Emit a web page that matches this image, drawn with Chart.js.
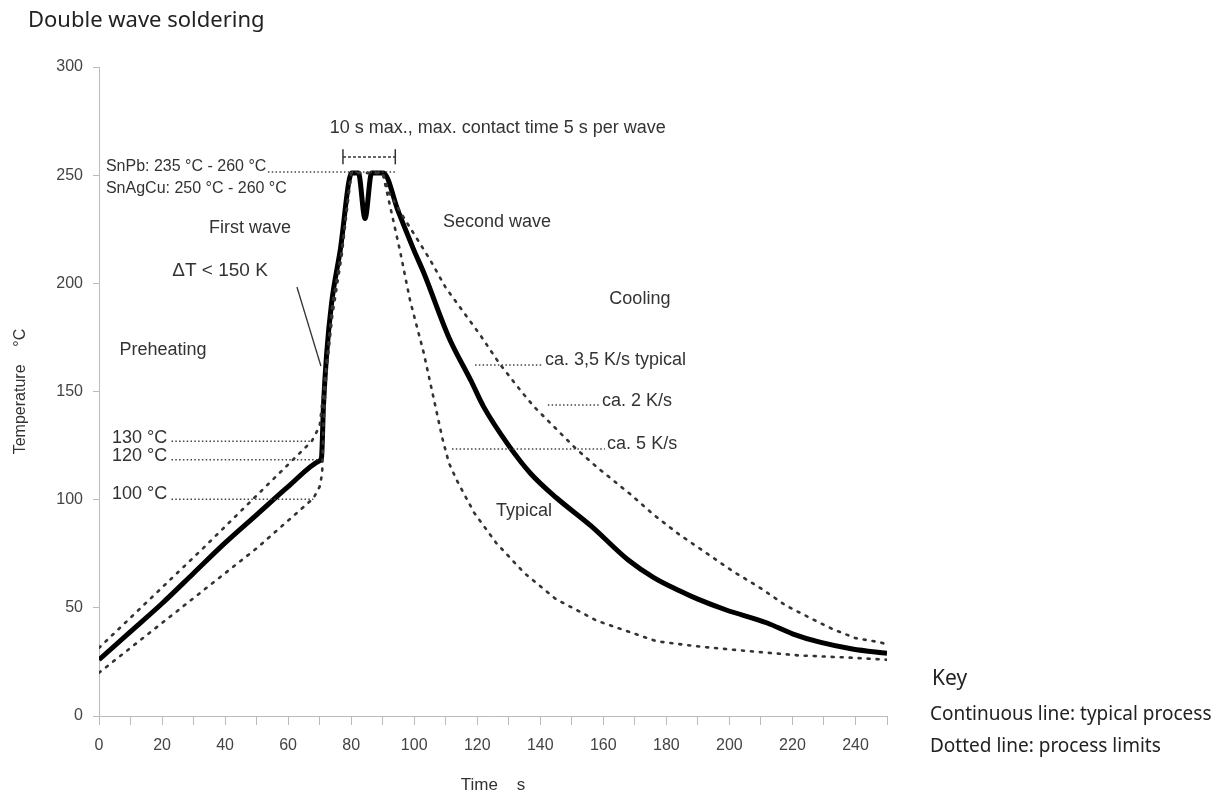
<!DOCTYPE html>
<html>
<head>
<meta charset="utf-8">
<script src="https://cdn.jsdelivr.net/npm/chart.js@4.4.1/dist/chart.umd.min.js"></script>
<style>
  body { margin: 0; background: #fff; }
  #wrap { position: relative; width: 1217px; height: 796px; }
  .note { position: absolute; font-family: "Noto Sans", "Open Sans", sans-serif; color: #222; white-space: nowrap; }
</style>
</head>
<body>
<div id="wrap">
  <canvas id="chart" width="1217" height="796"></canvas>
  <div class="note" style="left:28px; top:3px; font-size:22px;">Double wave soldering</div>
  <div class="note" style="left:932px; top:663px; font-size:21px;">Key</div>
  <div class="note" style="left:930px; top:700px; font-size:19px;">Continuous line: typical process</div>
  <div class="note" style="left:930px; top:732px; font-size:19px;">Dotted line: process limits</div>
</div>
<script>
// typical process (thick line)
const typicalTime = [0, 10, 20, 30, 40, 50, 60, 70, 70.6, 71.2, 72.2, 73.8, 76.5, 80.2, 82.3, 84.4, 86.5, 90.2, 95, 100, 103, 111, 118, 122, 130, 137, 145, 156, 168, 176, 184, 190, 199, 212, 220, 229, 239, 250];
const typicalTemp = [26, 39, 52, 66, 80, 93, 106, 118, 119.5, 143, 167, 191, 215, 251, 251, 230, 251, 251, 233, 215, 205, 175, 155, 143, 125, 112, 101, 88, 72, 64, 58, 54, 49, 43, 38, 34, 31, 29];

// upper process limit (ca. 2 K/s cooling)
const upperTime = [0, 33, 67.5, 70, 71, 72.5, 74, 77, 80, 90, 92, 96, 99, 105, 110, 116, 121, 127, 134, 138, 151, 158, 169, 176, 184, 192, 201, 210, 218, 226, 233, 240, 248, 250];
const upperTemp = [31.5, 77.5, 127, 134, 147, 168, 190, 215, 251, 251, 242, 232, 225, 211, 198, 186, 176, 163, 150, 143, 124, 115, 102, 93, 84, 76, 67, 59, 51, 45, 40, 36, 34, 33];

// lower process limit (ca. 5 K/s cooling)
const lowerTime = [0, 50, 68, 70, 70.8, 71.2, 72.2, 74, 77, 80, 90, 92.3, 95.5, 98.7, 103, 106, 109, 111, 113.5, 119, 126, 135, 145, 158, 170, 177, 191, 206, 222, 238, 250];
const lowerTemp = [20, 77.5, 100.6, 106, 112, 135, 160, 185, 213, 251, 251, 236, 215, 192, 168, 148, 128, 117, 109, 94, 80, 66, 54, 44, 38, 34.5, 32, 30, 28, 27, 26];

const xTicksEvery = 10;
const xLabelsEvery = 20;
const yTicksEvery = 50;

// text notes inside the plot, in data units
const notes = [
  { t: 2.2, T: 254, text: 'SnPb: 235 °C - 260 °C', align: 'left', size: 16 },
  { t: 2.2, T: 243.6, text: 'SnAgCu: 250 °C - 260 °C', align: 'left', size: 16 },
  { t: 73.2, T: 272, text: '10 s max., max. contact time 5 s per wave', align: 'left', size: 18 },
  { t: 47.9, T: 225.6, text: 'First wave', align: 'center', size: 18 },
  { t: 38.4, T: 205.7, text: 'ΔT < 150 K', align: 'center', size: 19 },
  { t: 20.3, T: 169.2, text: 'Preheating', align: 'center', size: 18 },
  { t: 4.1, T: 128.5, text: '130 °C', align: 'left', size: 18 },
  { t: 4.1, T: 120.2, text: '120 °C', align: 'left', size: 18 },
  { t: 4.1, T: 102.6, text: '100 °C', align: 'left', size: 18 },
  { t: 126.3, T: 228.4, text: 'Second wave', align: 'center', size: 18 },
  { t: 171.6, T: 192.8, text: 'Cooling', align: 'center', size: 18 },
  { t: 141.5, T: 164.6, text: 'ca. 3,5 K/s typical', align: 'left', size: 18 },
  { t: 159.6, T: 145.6, text: 'ca. 2 K/s', align: 'left', size: 18 },
  { t: 161.2, T: 125.7, text: 'ca. 5 K/s', align: 'left', size: 18 },
  { t: 134.8, T: 94.8, text: 'Typical', align: 'center', size: 18 }
];

// dotted leader lines [t0, t1, T]
const leaders = [
  [53.6, 94, 251.5],
  [23, 67.5, 127],
  [23, 70.1, 118.5],
  [23, 68, 100.2],
  [119.3, 140.9, 162.3],
  [142.4, 159, 143.8],
  [112, 160.5, 123.4]
];

function pts(xs, ys) {
  return xs.map((x, i) => ({ x: x, y: ys[i] }));
}

const notesPlugin = {
  id: 'notes',
  afterDatasetsDraw(chart) {
    const ctx = chart.ctx;
    const x = chart.scales.x, y = chart.scales.y;
    ctx.save();
    // dotted leaders
    ctx.strokeStyle = '#444';
    ctx.lineWidth = 1.5;
    ctx.setLineDash([1.5, 2.3]);
    leaders.forEach(l => {
      ctx.beginPath();
      ctx.moveTo(x.getPixelForValue(l[0]), y.getPixelForValue(l[2]));
      ctx.lineTo(x.getPixelForValue(l[1]), y.getPixelForValue(l[2]));
      ctx.stroke();
    });
    // bracket for contact time
    ctx.setLineDash([3, 2]);
    ctx.strokeStyle = '#333';
    ctx.beginPath();
    ctx.moveTo(x.getPixelForValue(77.4), y.getPixelForValue(258.4));
    ctx.lineTo(x.getPixelForValue(94), y.getPixelForValue(258.4));
    ctx.stroke();
    ctx.setLineDash([]);
    [77.4, 94].forEach(t => {
      ctx.beginPath();
      ctx.moveTo(x.getPixelForValue(t), y.getPixelForValue(255));
      ctx.lineTo(x.getPixelForValue(t), y.getPixelForValue(262));
      ctx.stroke();
    });
    // ΔT leader
    ctx.lineWidth = 1.3;
    ctx.beginPath();
    ctx.moveTo(x.getPixelForValue(62.8), y.getPixelForValue(198.3));
    ctx.lineTo(x.getPixelForValue(70.4), y.getPixelForValue(161.8));
    ctx.stroke();
    // texts
    ctx.fillStyle = '#333';
    ctx.textBaseline = 'middle';
    notes.forEach(n => {
      ctx.font = n.size + 'px "Liberation Sans", Arial, sans-serif';
      ctx.textAlign = n.align;
      ctx.fillText(n.text, x.getPixelForValue(n.t), y.getPixelForValue(n.T));
    });
    ctx.restore();
  }
};

const dotted = {
  borderColor: '#333',
  borderWidth: 2.6,
  borderDash: [2, 7],
  borderCapStyle: 'round',
  pointRadius: 0,
  fill: false,
  tension: 0
};

new Chart(document.getElementById('chart'), {
  type: 'line',
  data: {
    datasets: [
      Object.assign({ label: 'Upper limit', data: pts(upperTime, upperTemp) }, dotted),
      Object.assign({ label: 'Lower limit', data: pts(lowerTime, lowerTemp) }, dotted),
      {
        label: 'Typical',
        data: pts(typicalTime, typicalTemp),
        borderColor: '#000',
        borderWidth: 5,
        pointRadius: 0,
        fill: false,
        cubicInterpolationMode: 'monotone'
      }
    ]
  },
  options: {
    responsive: false,
    animation: false,
    layout: { padding: { left: 0, right: 330, top: 67, bottom: 0 } },
    plugins: { legend: { display: false }, tooltip: { enabled: false } },
    scales: {
      x: {
        type: 'linear',
        min: 0,
        max: 250,
        afterFit(s) { s.height = 80; },
        border: { color: '#bbb' },
        grid: { drawOnChartArea: false, color: '#bbb', tickLength: 9 },
        ticks: {
          stepSize: xTicksEvery,
          autoSkip: false,
          maxRotation: 0,
          padding: 11,
          color: '#444',
          font: { family: '"Liberation Sans", Arial, sans-serif', size: 16 },
          callback: v => (v % xLabelsEvery === 0 ? v : '')
        },
        title: {
          display: true,
          text: 'Time    s',
          color: '#333',
          font: { family: '"Liberation Sans", Arial, sans-serif', size: 17 },
          padding: { top: 0, bottom: 0 }
        }
      },
      y: {
        min: 0,
        max: 300,
        afterFit(s) { s.width = 99; },
        border: { color: '#bbb' },
        grid: { drawOnChartArea: false, color: '#bbb', tickLength: 6 },
        ticks: {
          stepSize: yTicksEvery,
          padding: 10,
          color: '#444',
          font: { family: '"Liberation Sans", Arial, sans-serif', size: 16 }
        },
        title: {
          display: true,
          text: 'Temperature    °C',
          color: '#333',
          font: { family: '"Liberation Sans", Arial, sans-serif', size: 16 },
          padding: { top: 11, bottom: 0 }
        }
      }
    }
  },
  plugins: [notesPlugin]
});
</script>
</body>
</html>
